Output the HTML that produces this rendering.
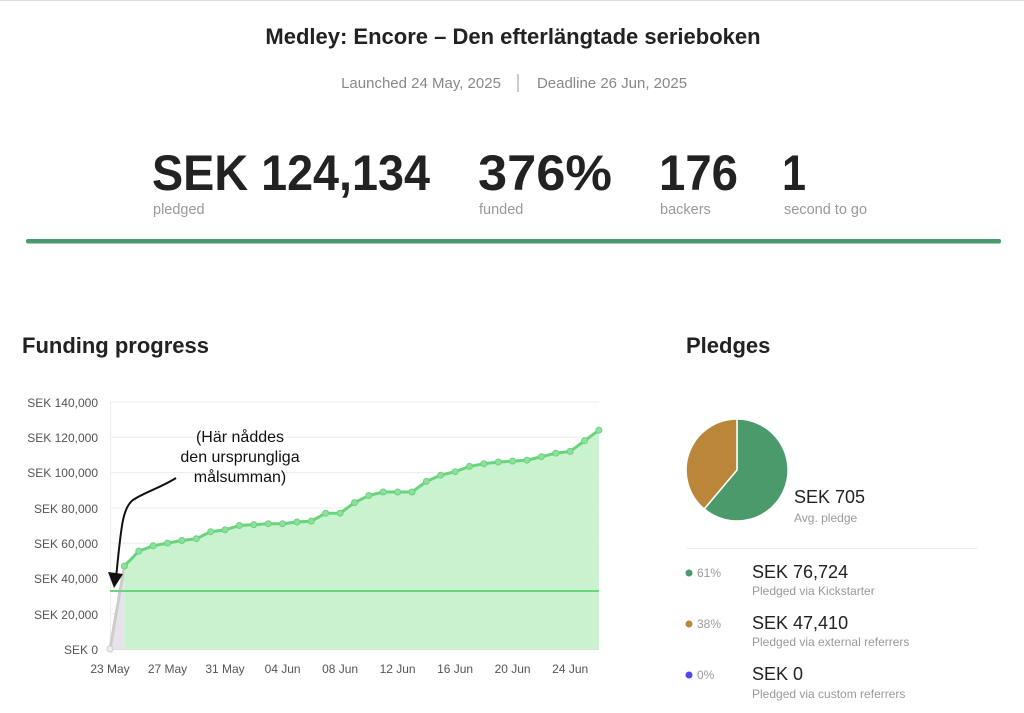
<!DOCTYPE html>
<html><head><meta charset="utf-8"><style>
html,body{margin:0;padding:0;background:#fff;}
svg{display:block;font-family:"Liberation Sans",Arial,sans-serif;}
</style></head><body>
<svg width="1024" height="713" viewBox="0 0 1024 713" xmlns="http://www.w3.org/2000/svg">
<line x1="0" y1="0.5" x2="1024" y2="0.5" stroke="#ddd"/>
<text x="513" y="44" text-anchor="middle" font-size="22" font-weight="bold" fill="#222">Medley: Encore – Den efterlängtade serieboken</text>
<text x="421" y="88" text-anchor="middle" font-size="15" fill="#888">Launched 24 May, 2025</text>
<line x1="518" y1="74" x2="518" y2="92" stroke="#999"/>
<text x="612" y="88" text-anchor="middle" font-size="15" fill="#888">Deadline 26 Jun, 2025</text>
<g font-weight="bold" font-size="50" fill="#222">
<text x="152" y="190" textLength="278" lengthAdjust="spacingAndGlyphs">SEK 124,134</text>
<text x="478" y="190" textLength="134" lengthAdjust="spacingAndGlyphs">376%</text>
<text x="659" y="190" textLength="79" lengthAdjust="spacingAndGlyphs">176</text>
<text x="782" y="190" textLength="24" lengthAdjust="spacingAndGlyphs">1</text>
</g>
<g font-size="14.5" fill="#999">
<text x="153" y="214">pledged</text><text x="479" y="214">funded</text>
<text x="660" y="214">backers</text><text x="784" y="214">second to go</text>
</g>
<rect x="26" y="239" width="975" height="4.5" rx="2" fill="#4a9a6c"/>
<text x="22" y="353" font-size="22" font-weight="bold" fill="#222">Funding progress</text>
<text x="686" y="353" font-size="22" font-weight="bold" fill="#222">Pledges</text>
<g stroke="#ececec">
<line x1="110" y1="402" x2="599" y2="402"/><line x1="110" y1="437.3" x2="599" y2="437.3"/>
<line x1="110" y1="472.6" x2="599" y2="472.6"/><line x1="110" y1="507.9" x2="599" y2="507.9"/>
<line x1="110" y1="543.1" x2="599" y2="543.1"/><line x1="110" y1="578.4" x2="599" y2="578.4"/>
<line x1="110" y1="613.7" x2="599" y2="613.7"/>
<line x1="110.5" y1="402" x2="110.5" y2="649"/>
</g>
<line x1="110" y1="649.5" x2="599" y2="649.5" stroke="#ddd"/>
<g font-size="12" fill="#555" text-anchor="end">
<text x="98" y="407">SEK 140,000</text><text x="98" y="442">SEK 120,000</text>
<text x="98" y="477">SEK 100,000</text><text x="98" y="513">SEK 80,000</text>
<text x="98" y="548">SEK 60,000</text><text x="98" y="583">SEK 40,000</text>
<text x="98" y="619">SEK 20,000</text><text x="98" y="654">SEK 0</text>
</g>
<g font-size="12" fill="#555" text-anchor="middle">
<text x="110" y="673">23 May</text><text x="167.5" y="673">27 May</text><text x="225" y="673">31 May</text>
<text x="282.6" y="673">04 Jun</text><text x="340.1" y="673">08 Jun</text><text x="397.6" y="673">12 Jun</text>
<text x="455.1" y="673">16 Jun</text><text x="512.6" y="673">20 Jun</text><text x="570.2" y="673">24 Jun</text>
</g>
<polygon points="110,649 124.4,566.1 124.4,649" fill="#e6e4ea"/>
<line x1="110" y1="649" x2="124.4" y2="566.1" stroke="#ccc" stroke-width="3"/>
<circle cx="110" cy="649" r="3" fill="#eee" stroke="#ccc"/>
<polygon fill="#c9f2cf" points="124.4,649 124.4,566.1 138.8,551.1 153.1,545.8 167.5,543.1 181.9,540.5 196.3,538.7 210.7,531.7 225,529.9 239.4,525.5 253.8,524.6 268.2,523.7 282.6,523.7 296.9,522 311.3,521.1 325.7,513.2 340.1,513.2 354.5,502.6 368.8,495.5 383.2,492 397.6,492 412,492 426.4,481.4 440.7,475.2 455.1,471.7 469.5,466.4 483.9,463.7 498.3,462 512.6,461.1 527,460.2 541.4,456.7 555.8,453.2 570.2,451.4 584.5,440.8 598.9,430.2 598.9,649"/>
<line x1="110" y1="591" x2="599" y2="591" stroke="#6ad37e" stroke-width="2"/>
<polyline fill="none" stroke="#6ad37e" stroke-width="3" points="124.4,566.1 138.8,551.1 153.1,545.8 167.5,543.1 181.9,540.5 196.3,538.7 210.7,531.7 225,529.9 239.4,525.5 253.8,524.6 268.2,523.7 282.6,523.7 296.9,522 311.3,521.1 325.7,513.2 340.1,513.2 354.5,502.6 368.8,495.5 383.2,492 397.6,492 412,492 426.4,481.4 440.7,475.2 455.1,471.7 469.5,466.4 483.9,463.7 498.3,462 512.6,461.1 527,460.2 541.4,456.7 555.8,453.2 570.2,451.4 584.5,440.8 598.9,430.2"/>
<g fill="#8fe09c" stroke="#6ad37e" stroke-width="1">
<circle cx="124.4" cy="566.1" r="3"/><circle cx="138.8" cy="551.1" r="3"/><circle cx="153.1" cy="545.8" r="3"/><circle cx="167.5" cy="543.1" r="3"/><circle cx="181.9" cy="540.5" r="3"/><circle cx="196.3" cy="538.7" r="3"/><circle cx="210.7" cy="531.7" r="3"/><circle cx="225" cy="529.9" r="3"/><circle cx="239.4" cy="525.5" r="3"/><circle cx="253.8" cy="524.6" r="3"/><circle cx="268.2" cy="523.7" r="3"/><circle cx="282.6" cy="523.7" r="3"/><circle cx="296.9" cy="522" r="3"/><circle cx="311.3" cy="521.1" r="3"/><circle cx="325.7" cy="513.2" r="3"/><circle cx="340.1" cy="513.2" r="3"/><circle cx="354.5" cy="502.6" r="3"/><circle cx="368.8" cy="495.5" r="3"/><circle cx="383.2" cy="492" r="3"/><circle cx="397.6" cy="492" r="3"/><circle cx="412" cy="492" r="3"/><circle cx="426.4" cy="481.4" r="3"/><circle cx="440.7" cy="475.2" r="3"/><circle cx="455.1" cy="471.7" r="3"/><circle cx="469.5" cy="466.4" r="3"/><circle cx="483.9" cy="463.7" r="3"/><circle cx="498.3" cy="462" r="3"/><circle cx="512.6" cy="461.1" r="3"/><circle cx="527" cy="460.2" r="3"/><circle cx="541.4" cy="456.7" r="3"/><circle cx="555.8" cy="453.2" r="3"/><circle cx="570.2" cy="451.4" r="3"/><circle cx="584.5" cy="440.8" r="3"/><circle cx="598.9" cy="430.2" r="3"/>
</g>
<g font-size="16" fill="#111" text-anchor="middle">
<text x="240" y="442">(Här nåddes</text><text x="240" y="462">den ursprungliga</text><text x="240" y="482">målsumman)</text>
</g>
<path d="M176,478 C160,488 145,492 133,500 C122,508 121,530 116,578" fill="none" stroke="#111" stroke-width="2"/>
<polygon points="108,572 123,574 114,588" fill="#111"/>
<path d="M737,470 L737,419 A51,51 0 1 1 704.2,509 Z" fill="#4a9a6c" stroke="#fff" stroke-width="1.5"/>
<path d="M737,470 L704.2,509 A51,51 0 0 1 737,419 Z" fill="#b9863a" stroke="#fff" stroke-width="1.5"/>
<text x="794" y="503" font-size="18" fill="#222">SEK 705</text>
<text x="794" y="522" font-size="12" fill="#999">Avg. pledge</text>
<line x1="686" y1="548.5" x2="978" y2="548.5" stroke="#eee"/>
<circle cx="689" cy="573" r="3.5" fill="#4a9a6c"/><text x="697" y="577" font-size="12" fill="#999">61%</text>
<text x="752" y="578" font-size="18" fill="#222">SEK 76,724</text>
<text x="752" y="595" font-size="12" fill="#999">Pledged via Kickstarter</text>
<circle cx="689" cy="624" r="3.5" fill="#b9863a"/><text x="697" y="628" font-size="12" fill="#999">38%</text>
<text x="752" y="629" font-size="18" fill="#222">SEK 47,410</text>
<text x="752" y="646" font-size="12" fill="#999">Pledged via external referrers</text>
<circle cx="689" cy="675" r="3.5" fill="#4a4aee"/><text x="697" y="679" font-size="12" fill="#999">0%</text>
<text x="752" y="680" font-size="18" fill="#222">SEK 0</text>
<text x="752" y="698" font-size="12" fill="#999">Pledged via custom referrers</text>
</svg>
</body></html>
